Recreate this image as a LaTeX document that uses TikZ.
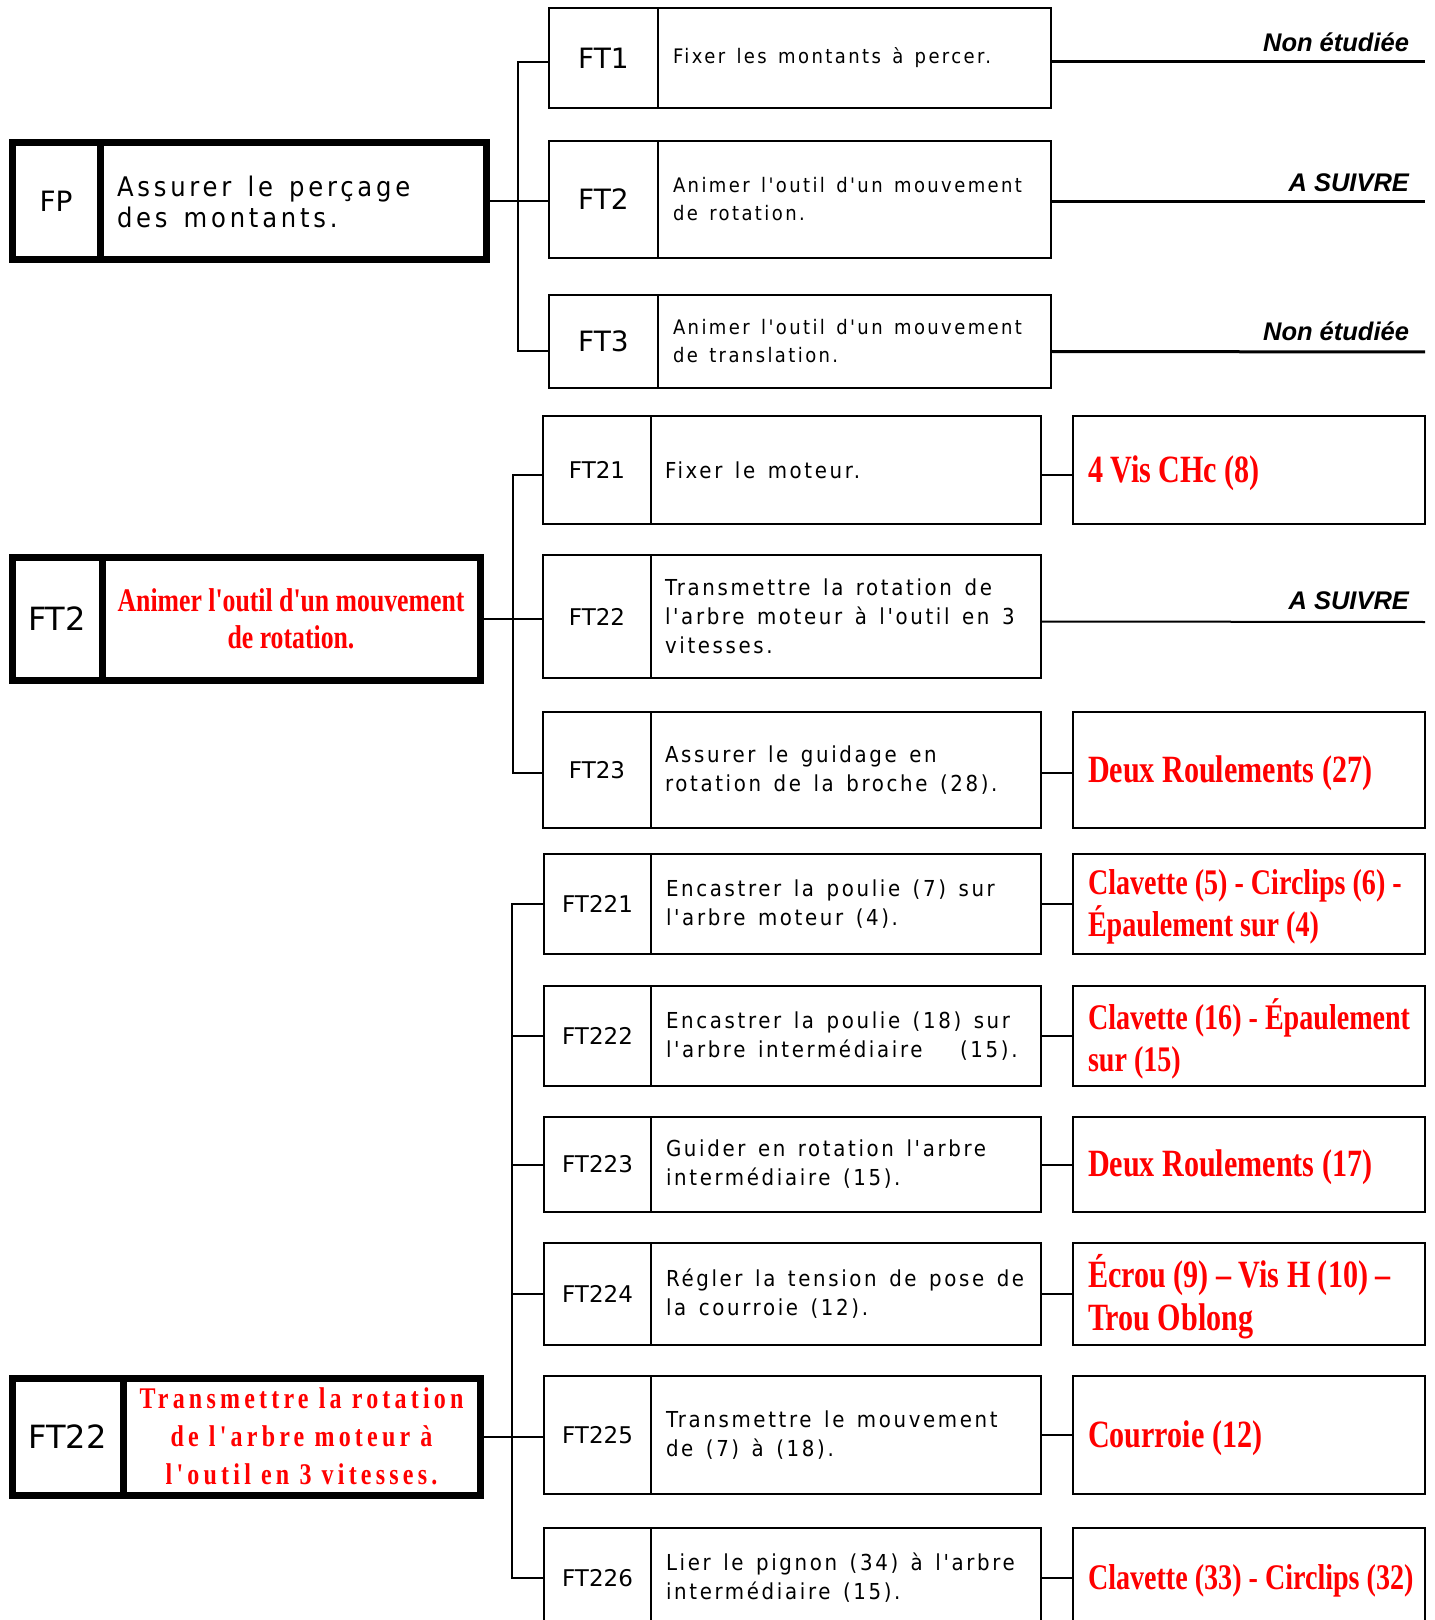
\documentclass[tikz,border=0pt]{standalone}
\usepackage{fontspec}
\usepackage{xcolor}
\usetikzlibrary{positioning}
\setmainfont{DejaVu Sans}
\newfontfamily\txtfont[FakeStretch=0.9,LetterSpace=12,WordSpace=1.4]{DejaVu Sans}
\newfontfamily\fptxtfont[FakeStretch=0.9,LetterSpace=14,WordSpace=1.4]{DejaVu Sans}
\newfontfamily\redfont[FakeStretch=0.78]{Liberation Serif}
\newfontfamily\redwidefont[FakeStretch=0.8,LetterSpace=14]{Liberation Serif}
\newfontfamily\notefont{Liberation Sans}
\definecolor{ftred}{RGB}{255,0,0}

\begin{document}
\begin{tikzpicture}[x=0.5pt, y=-0.5pt, inner sep=0pt, outer sep=0pt,
  idcell/.style={draw, line width=1.2pt, anchor=north west, font=\fontsize{14}{16}\selectfont},
  subid/.style={idcell, font=\fontsize{11.5}{14}\selectfont},
  txtcell/.style={draw, line width=1.2pt},
  bigid/.style={draw, line width=3.5pt, anchor=north west, font=\fontsize{16}{18}\selectfont},
  bigtxt/.style={draw, line width=3.5pt},
  body/.style={align=left, font=\txtfont\fontsize{11}{14.5}\selectfont},
  bodytop/.style={body, font=\txtfont\fontsize{10}{14}\selectfont},
  resbox/.style={draw, line width=1.2pt, anchor=north west, minimum width=176pt},
  restxt/.style={align=left, text=ftred, yshift=-1.5pt, font=\redfont\bfseries\fontsize{18}{21}\selectfont},
  restxtl/.style={restxt, font=\redfont\bfseries\fontsize{19.3}{21.5}\selectfont},
  redhead/.style={align=center, text=ftred, font=\redfont\bfseries\fontsize{16.5}{18.5}\selectfont},
  redwide/.style={align=center, text=ftred, font=\redwidefont\bfseries\fontsize{15}{19}\selectfont},
  note/.style={anchor=base east, font=\notefont\bfseries\itshape\fontsize{12.75}{15}\selectfont},
  link/.style={line width=1pt},
  noteline/.style={line width=1.5pt}]

\useasboundingbox (0,0) rectangle (1434,1620);

% fonction principale
\node [bigid, font=\fontsize{14}{16}\selectfont, minimum width=44pt, minimum height=58.5pt] (fp) at (12,143) {FP};
\node [bigtxt, minimum width=193pt, minimum height=58.5pt, right=0pt of fp] (fpc) {};
\node [body, font=\fptxtfont\fontsize{13.5}{15.5}\selectfont, right=8.5pt of fpc.west] (fpt) {Assurer le perçage\\des montants.};

\node [idcell, minimum width=54.5pt, minimum height=50pt] (ft1) at (549,8) {FT1};
\node [txtcell, minimum width=196.5pt, minimum height=50pt, right=0pt of ft1] (c1) {};
\node [bodytop, right=7.5pt of c1.west] (t1) {Fixer les montants à percer.};
\node [idcell, minimum width=54.5pt, minimum height=58.5pt] (ft2) at (549,141) {FT2};
\node [txtcell, minimum width=196.5pt, minimum height=58.5pt, right=0pt of ft2] (c2) {};
\node [bodytop, right=7.5pt of c2.west] (t2) {Animer l'outil d'un mouvement\\de rotation.};
\node [idcell, minimum width=54.5pt, minimum height=46.5pt] (ft3) at (549,295) {FT3};
\node [txtcell, minimum width=196.5pt, minimum height=46.5pt, right=0pt of ft3] (c3) {};
\node [bodytop, right=7.5pt of c3.west] (t3) {Animer l'outil d'un mouvement\\de translation.};

\coordinate (j1) at (518,202);
\draw [link] (fpc.east) -- (fpc.east -| ft2.west);
\draw [link] ([yshift=-2pt]ft1.west) -| (j1) |- ([yshift=-5pt]ft3.west);

\coordinate (n1) at (1425,62);
\coordinate (n2) at (1425,202);
\coordinate (n3) at (1425,352);
\draw [noteline] ([yshift=-2pt]c1.east) -- (n1);
\draw [noteline] ([yshift=-1.25pt]c2.east) -- (n2);
\draw [noteline] ([yshift=-5pt]c3.east) -- (n3);
\node [note] (n1l) at ([shift={(-16,-10)}]n1) {Non étudiée};
\node [note] (n2l) at ([shift={(-16,-10)}]n2) {A SUIVRE};
\node [note] (n3l) at ([shift={(-16,-11)}]n3) {Non étudiée};

% FT2
\node [bigid, minimum width=45pt, minimum height=61.5pt] (ft2b) at (12,557) {FT2};
\node [bigtxt, minimum width=189pt, minimum height=61.5pt, right=0pt of ft2b] (ft2bc) {};
\node [redhead] (ft2bt) at (ft2bc) {Animer l'outil d'un mouvement\\de rotation.};

\node [subid, minimum width=54pt, minimum height=54pt] (ft21) at (543,416) {FT21};
\node [txtcell, minimum width=195pt, minimum height=54pt, right=0pt of ft21] (c21) {};
\node [body, right=7pt of c21.west] (t21) {Fixer le moteur.};
\node [subid, minimum width=54pt, minimum height=61.5pt] (ft22) at (543,555) {FT22};
\node [txtcell, minimum width=195pt, minimum height=61.5pt, right=0pt of ft22] (c22) {};
\node [body, right=7pt of c22.west] (t22) {Transmettre la rotation de\\l'arbre moteur à l'outil en 3\\vitesses.};
\node [subid, minimum width=54pt, minimum height=58pt] (ft23) at (543,712) {FT23};
\node [txtcell, minimum width=195pt, minimum height=58pt, right=0pt of ft23] (c23) {};
\node [body, right=7pt of c23.west] (t23) {Assurer le guidage en\\rotation de la broche (28).};

\node [resbox, minimum height=54pt] (r21) at (1073,416) {};
\node [restxtl, right=7.5pt of r21.west] (rt21) {4 Vis CHc (8)};
\node [resbox, minimum height=58pt] (r23) at (1073,712) {};
\node [restxtl, right=7.5pt of r23.west] (rt23) {Deux Roulements (27)};

\coordinate (j2) at (513,622);
\draw [link] (ft2bc.east) -- (ft2bc.east -| ft22.west);
\draw [link] ([yshift=-2.5pt]ft21.west) -| (j2) |- ([yshift=-1.5pt]ft23.west);
\path [link]
([yshift=-2.5pt]c21.east) edge ([yshift=-2.5pt]r21.west)
([yshift=-1.5pt]c23.east) edge ([yshift=-1.5pt]r23.west);
\coordinate (n22) at (1425,622);
\draw [link] ([yshift=-2.5pt]c22.east) -- (n22);
\node [note] (n22l) at ([shift={(-16,-13)}]n22) {A SUIVRE};

% FT22
\node [bigid, minimum width=55.5pt, minimum height=58.5pt] (ft22b) at (12,1378) {FT22};
\node [bigtxt, minimum width=178.5pt, minimum height=58.5pt, right=0pt of ft22b] (ft22bc) {};
\node [redwide] (ft22bt) at (ft22bc) {Transmettre la rotation\\de l'arbre moteur à\\l'outil en 3 vitesses.};

\node [subid, minimum width=53.5pt, minimum height=50pt] (ft221) at (544,854) {FT221};
\node [txtcell, minimum width=195pt, minimum height=50pt, right=0pt of ft221] (c221) {};
\node [body, right=7.5pt of c221.west] (t221) {Encastrer la poulie (7) sur\\l'arbre moteur (4).};
\node [subid, minimum width=53.5pt, minimum height=50pt] (ft222) at (544,986) {FT222};
\node [txtcell, minimum width=195pt, minimum height=50pt, right=0pt of ft222] (c222) {};
\node [body, right=7.5pt of c222.west] (t222) {Encastrer la poulie (18) sur\\l'arbre intermédiaire\ \ \ (15).};
\node [subid, minimum width=53.5pt, minimum height=47.5pt] (ft223) at (544,1117) {FT223};
\node [txtcell, minimum width=195pt, minimum height=47.5pt, right=0pt of ft223] (c223) {};
\node [body, right=7.5pt of c223.west] (t223) {Guider en rotation l'arbre\\intermédiaire (15).};
\node [subid, minimum width=53.5pt, minimum height=51pt] (ft224) at (544,1243) {FT224};
\node [txtcell, minimum width=195pt, minimum height=51pt, right=0pt of ft224] (c224) {};
\node [body, right=7.5pt of c224.west] (t224) {Régler la tension de pose de\\la courroie (12).};
\node [subid, minimum width=53.5pt, minimum height=59pt] (ft225) at (544,1376) {FT225};
\node [txtcell, minimum width=195pt, minimum height=59pt, right=0pt of ft225] (c225) {};
\node [body, right=7.5pt of c225.west] (t225) {Transmettre le mouvement\\de (7) à (18).};
\node [subid, minimum width=53.5pt, minimum height=50pt] (ft226) at (544,1528) {FT226};
\node [txtcell, minimum width=195pt, minimum height=50pt, right=0pt of ft226] (c226) {};
\node [body, right=7.5pt of c226.west] (t226) {Lier le pignon (34) à l'arbre\\intermédiaire (15).};

\node [resbox, minimum height=50pt] (r221) at (1073,854) {};
\node [restxt, right=7.5pt of r221.west] (rt221) {Clavette (5) - Circlips (6) -\\Épaulement sur (4)};
\node [resbox, minimum height=50pt] (r222) at (1073,986) {};
\node [restxt, right=7.5pt of r222.west] (rt222) {Clavette (16) - Épaulement\\sur (15)};
\node [resbox, minimum height=47.5pt] (r223) at (1073,1117) {};
\node [restxtl, right=7.5pt of r223.west] (rt223) {Deux Roulements (17)};
\node [resbox, minimum height=51pt] (r224) at (1073,1243) {};
\node [restxtl, right=7.5pt of r224.west] (rt224) {Écrou (9) – Vis H (10) –\\Trou Oblong};
\node [resbox, minimum height=59pt] (r225) at (1073,1376) {};
\node [restxtl, right=7.5pt of r225.west] (rt225) {Courroie (12)};
\node [resbox, minimum height=50pt] (r226) at (1073,1528) {};
\node [restxt, right=7.5pt of r226.west] (rt226) {Clavette (33) - Circlips (32)};

\coordinate (j3) at (512,1432);
\draw [link] (ft22bc.east) -- (ft22bc.east -| ft225.west);
\draw [link] (ft221.west) -| (j3) |- (ft226.west);
\path [link]
(ft222.west) edge (ft222.west -| j3)
(ft223.west) edge (ft223.west -| j3)
(ft224.west) edge (ft224.west -| j3)
(c221.east) edge (r221.west)
(c222.east) edge (r222.west)
(c223.east) edge (r223.west)
(c224.east) edge (r224.west)
(c225.east) edge (r225.west)
(c226.east) edge (r226.west);
\end{tikzpicture}
\end{document}
